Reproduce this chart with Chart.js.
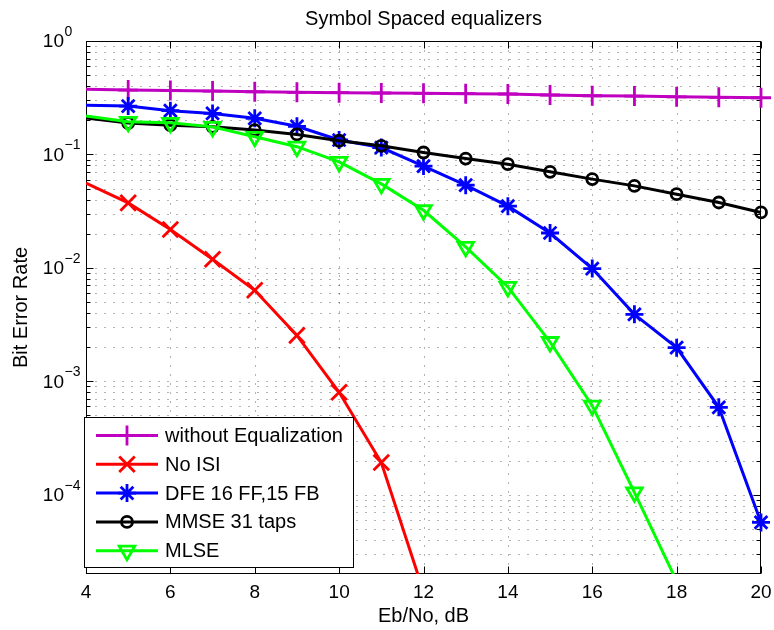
<!DOCTYPE html>
<html>
<head>
<meta charset="utf-8">
<script src="https://cdn.jsdelivr.net/npm/chart.js@4/dist/chart.umd.min.js"></script>
<style>
html,body{margin:0;padding:0;background:#fff;}
canvas{display:block;}
</style>
</head>
<body>
<canvas id="c" width="774" height="630" style="width:774px;height:630px"></canvas>
<script>
// ---------- data ----------
const ebno = [4,5,6,7,8,9,10,11,12,13,14,15,16,17,18,19,20];
const withoutEq = [0.375,0.369,0.367,0.362,0.357,0.353,0.350,0.348,0.346,0.343,0.341,0.334,0.329,0.327,0.322,0.319,0.316];
const noIsi     = [0.056,0.0374,0.0218,0.0119,0.00634,0.00254,0.0008,0.000192,0.000014];
const dfe       = [0.271,0.267,0.243,0.230,0.208,0.177,0.134,0.115,0.079,0.0536,0.035,0.0203,0.00986,0.00389,0.00198,0.00059,0.000057];
const mmse      = [0.210,0.189,0.181,0.175,0.164,0.150,0.132,0.119,0.104,0.092,0.082,0.0703,0.0606,0.0528,0.0446,0.0377,0.0308];
const mlse      = [0.218,0.194,0.190,0.175,0.143,0.117,0.086,0.055,0.0322,0.0153,0.00679,0.00222,0.00061,0.000105,0.0000173];
const seriesNames = ['without Equalization','No ISI','DFE 16 FF,15 FB','MMSE 31 taps','MLSE'];
const xTicks = [4,6,8,10,12,14,16,18,20];
const yTickExponents = [-4,-3,-2,-1,0];
const yMinorMantissas = [2,3,4,5,6,7,8,9];
const xMin = 4, xMax = 20, yMin = 2e-5, yMax = 1;
const titleText = 'Symbol Spaced equalizers';
const xLabel = 'Eb/No, dB';
const yLabel = 'Bit Error Rate';

// ---------- styles ----------
const FONT = "'Liberation Sans', Arial, Helvetica, sans-serif";
const styles = [
  {color:'#C000C0', pointStyle:'cross',    radius:10, rotation:0},
  {color:'#FF0000', pointStyle:'crossRot', radius:11, rotation:0},
  {color:'#0000FF', pointStyle:'star',     radius:9,  rotation:0},
  {color:'#000000', pointStyle:'circle',   radius:5.5,rotation:0},
  {color:'#00FF00', pointStyle:'triangle', radius:9,  rotation:180}
];
const seriesValues = [withoutEq, noIsi, dfe, mmse, mlse];

function toPoints(arr){ return arr.map((v,i)=>({x: ebno[i], y: v})); }

const datasets = seriesValues.map((arr, i) => {
  const s = styles[i];
  return {
    label: seriesNames[i],
    data: toPoints(arr),
    borderColor: s.color,
    borderWidth: 3,
    backgroundColor: s.color,
    pointStyle: s.pointStyle,
    pointRotation: s.rotation,
    pointBorderColor: s.color,
    pointBackgroundColor: 'rgba(0,0,0,0)',
    pointBorderWidth: 2.8,
    pointRadius: (c) => {
      const p = c.raw;
      if (!p) return s.radius;
      return (p.x <= xMin || p.y < yMin) ? 0 : s.radius;
    },
    pointHoverRadius: 0,
    tension: 0,
    fill: false,
    order: 4 - i,
    clip: {left: 0, top: 14, right: 14, bottom: 0}
  };
});

// ---------- MATLAB-like axes (grid, box, inside ticks, y labels) ----------
const axesPlugin = {
  id: 'matlabAxes',
  beforeDatasetsDraw(chart) {
    const {ctx, chartArea: a, scales} = chart;
    const xs = scales.x, ys = scales.y;
    const L = Math.round(a.left) + 0.5, R = Math.round(a.right) - 0.5;
    const T = Math.round(a.top) + 0.5, B = Math.round(a.bottom) - 0.5;
    ctx.save();
    const line = (x1,y1,x2,y2) => { ctx.beginPath(); ctx.moveTo(x1,y1); ctx.lineTo(x2,y2); ctx.stroke(); };
    // grid
    ctx.strokeStyle = 'rgba(0,0,0,0.6)';
    ctx.lineWidth = 1;
    ctx.setLineDash([1, 8]);
    xTicks.forEach(v => {
      const px = Math.round(xs.getPixelForValue(v)) + 0.5;
      if (px > L + 1 && px < R - 1) line(px, B, px, T);
    });
    const yGrid = [];
    for (let e = -5; e <= 0; e++) {
      [1].concat(yMinorMantissas).forEach(m => {
        const v = m * Math.pow(10, e);
        if (v > yMin * 1.001 && v < yMax * 0.999) yGrid.push({v, major: m === 1});
      });
    }
    yGrid.forEach(g => {
      const py = Math.round(ys.getPixelForValue(g.v)) + 0.5;
      line(L, py, R, py);
    });
    ctx.setLineDash([]);
    // box
    ctx.strokeStyle = '#000';
    ctx.lineWidth = 1;
    ctx.strokeRect(L, T, R - L, B - T);
    // ticks (inside)
    xTicks.forEach(v => {
      const px = Math.round(xs.getPixelForValue(v)) + 0.5;
      line(px, B, px, B - 7);
      line(px, T, px, T + 7);
    });
    yGrid.forEach(g => {
      const py = Math.round(ys.getPixelForValue(g.v)) + 0.5;
      const len = g.major ? 7 : 4;
      line(L, py, L + len, py);
      line(R, py, R - len, py);
    });
    // y tick labels: 10^k
    ctx.fillStyle = '#000';
    yTickExponents.forEach(k => {
      const py = ys.getPixelForValue(Math.pow(10, k));
      ctx.font = '19px ' + FONT;
      ctx.textAlign = 'right';
      ctx.textBaseline = 'middle';
      ctx.fillText('10', 64, py + 1);
      ctx.font = '14px ' + FONT;
      ctx.textAlign = 'left';
      ctx.fillText(k < 0 ? '\u2212' + (-k) : String(k), 64.5, py - 9);
    });
    ctx.restore();
  }
};

// ---------- legend drawn inside the axes ----------
const legendPlugin = {
  id: 'matlabLegend',
  afterDatasetsDraw(chart) {
    const {ctx} = chart;
    const bx = 84.5, by = 417.5, bw = 269, bh = 150;
    ctx.save();
    ctx.fillStyle = '#fff';
    ctx.fillRect(bx, by, bw, bh);
    ctx.strokeStyle = '#000';
    ctx.lineWidth = 1;
    ctx.strokeRect(bx, by, bw, bh);
    seriesNames.forEach((name, i) => {
      const s = styles[i];
      const ry = 435.5 + i * 28.8;
      ctx.strokeStyle = s.color;
      ctx.lineWidth = 3;
      ctx.beginPath(); ctx.moveTo(96, ry); ctx.lineTo(158, ry); ctx.stroke();
      ctx.lineWidth = 2.8;
      ctx.fillStyle = 'rgba(0,0,0,0)';
      Chart.helpers.drawPoint(ctx, {pointStyle: s.pointStyle, rotation: s.rotation, radius: s.radius, borderWidth: 2.8}, 127, ry);
      ctx.fillStyle = '#000';
      ctx.font = '20px ' + FONT;
      ctx.textAlign = 'left';
      ctx.textBaseline = 'middle';
      ctx.fillText(name, 165, ry + 1);
    });
    ctx.restore();
  }
};

new Chart(document.getElementById('c').getContext('2d'), {
  type: 'line',
  data: { datasets },
  options: {
    responsive: false,
    animation: false,
    devicePixelRatio: 1,
    events: [],
    layout: { padding: { left: 0, right: 13, top: 0, bottom: 0 } },
    plugins: {
      legend: { display: false },
      tooltip: { enabled: false },
      title: {
        display: true, text: titleText, color: '#000', fullSize: false,
        font: { family: FONT, size: 20, weight: 'normal' },
        padding: { top: 7, bottom: 10 }
      }
    },
    scales: {
      x: {
        type: 'linear', min: xMin, max: xMax,
        ticks: { stepSize: 2, autoSkip: false, color: '#000', padding: 7,
                 font: { family: FONT, size: 19 } },
        grid: { display: false, drawTicks: false },
        border: { display: false },
        title: { display: true, text: xLabel, color: '#000',
                 font: { family: FONT, size: 20 }, padding: { top: 0, bottom: 2 } },
        afterFit: (s) => { s.height = 56; s.paddingLeft = 0; s.paddingRight = 0; }
      },
      y: {
        type: 'logarithmic', min: yMin, max: yMax,
        ticks: { display: false },
        grid: { display: false, drawTicks: false },
        border: { display: false },
        title: { display: true, text: yLabel, color: '#000',
                 font: { family: FONT, size: 20 }, padding: { top: 9, bottom: 0 } },
        afterFit: (s) => { s.width = 86; s.paddingTop = 0; s.paddingBottom = 0; }
      }
    }
  },
  plugins: [axesPlugin, legendPlugin]
});
</script>
</body>
</html>
